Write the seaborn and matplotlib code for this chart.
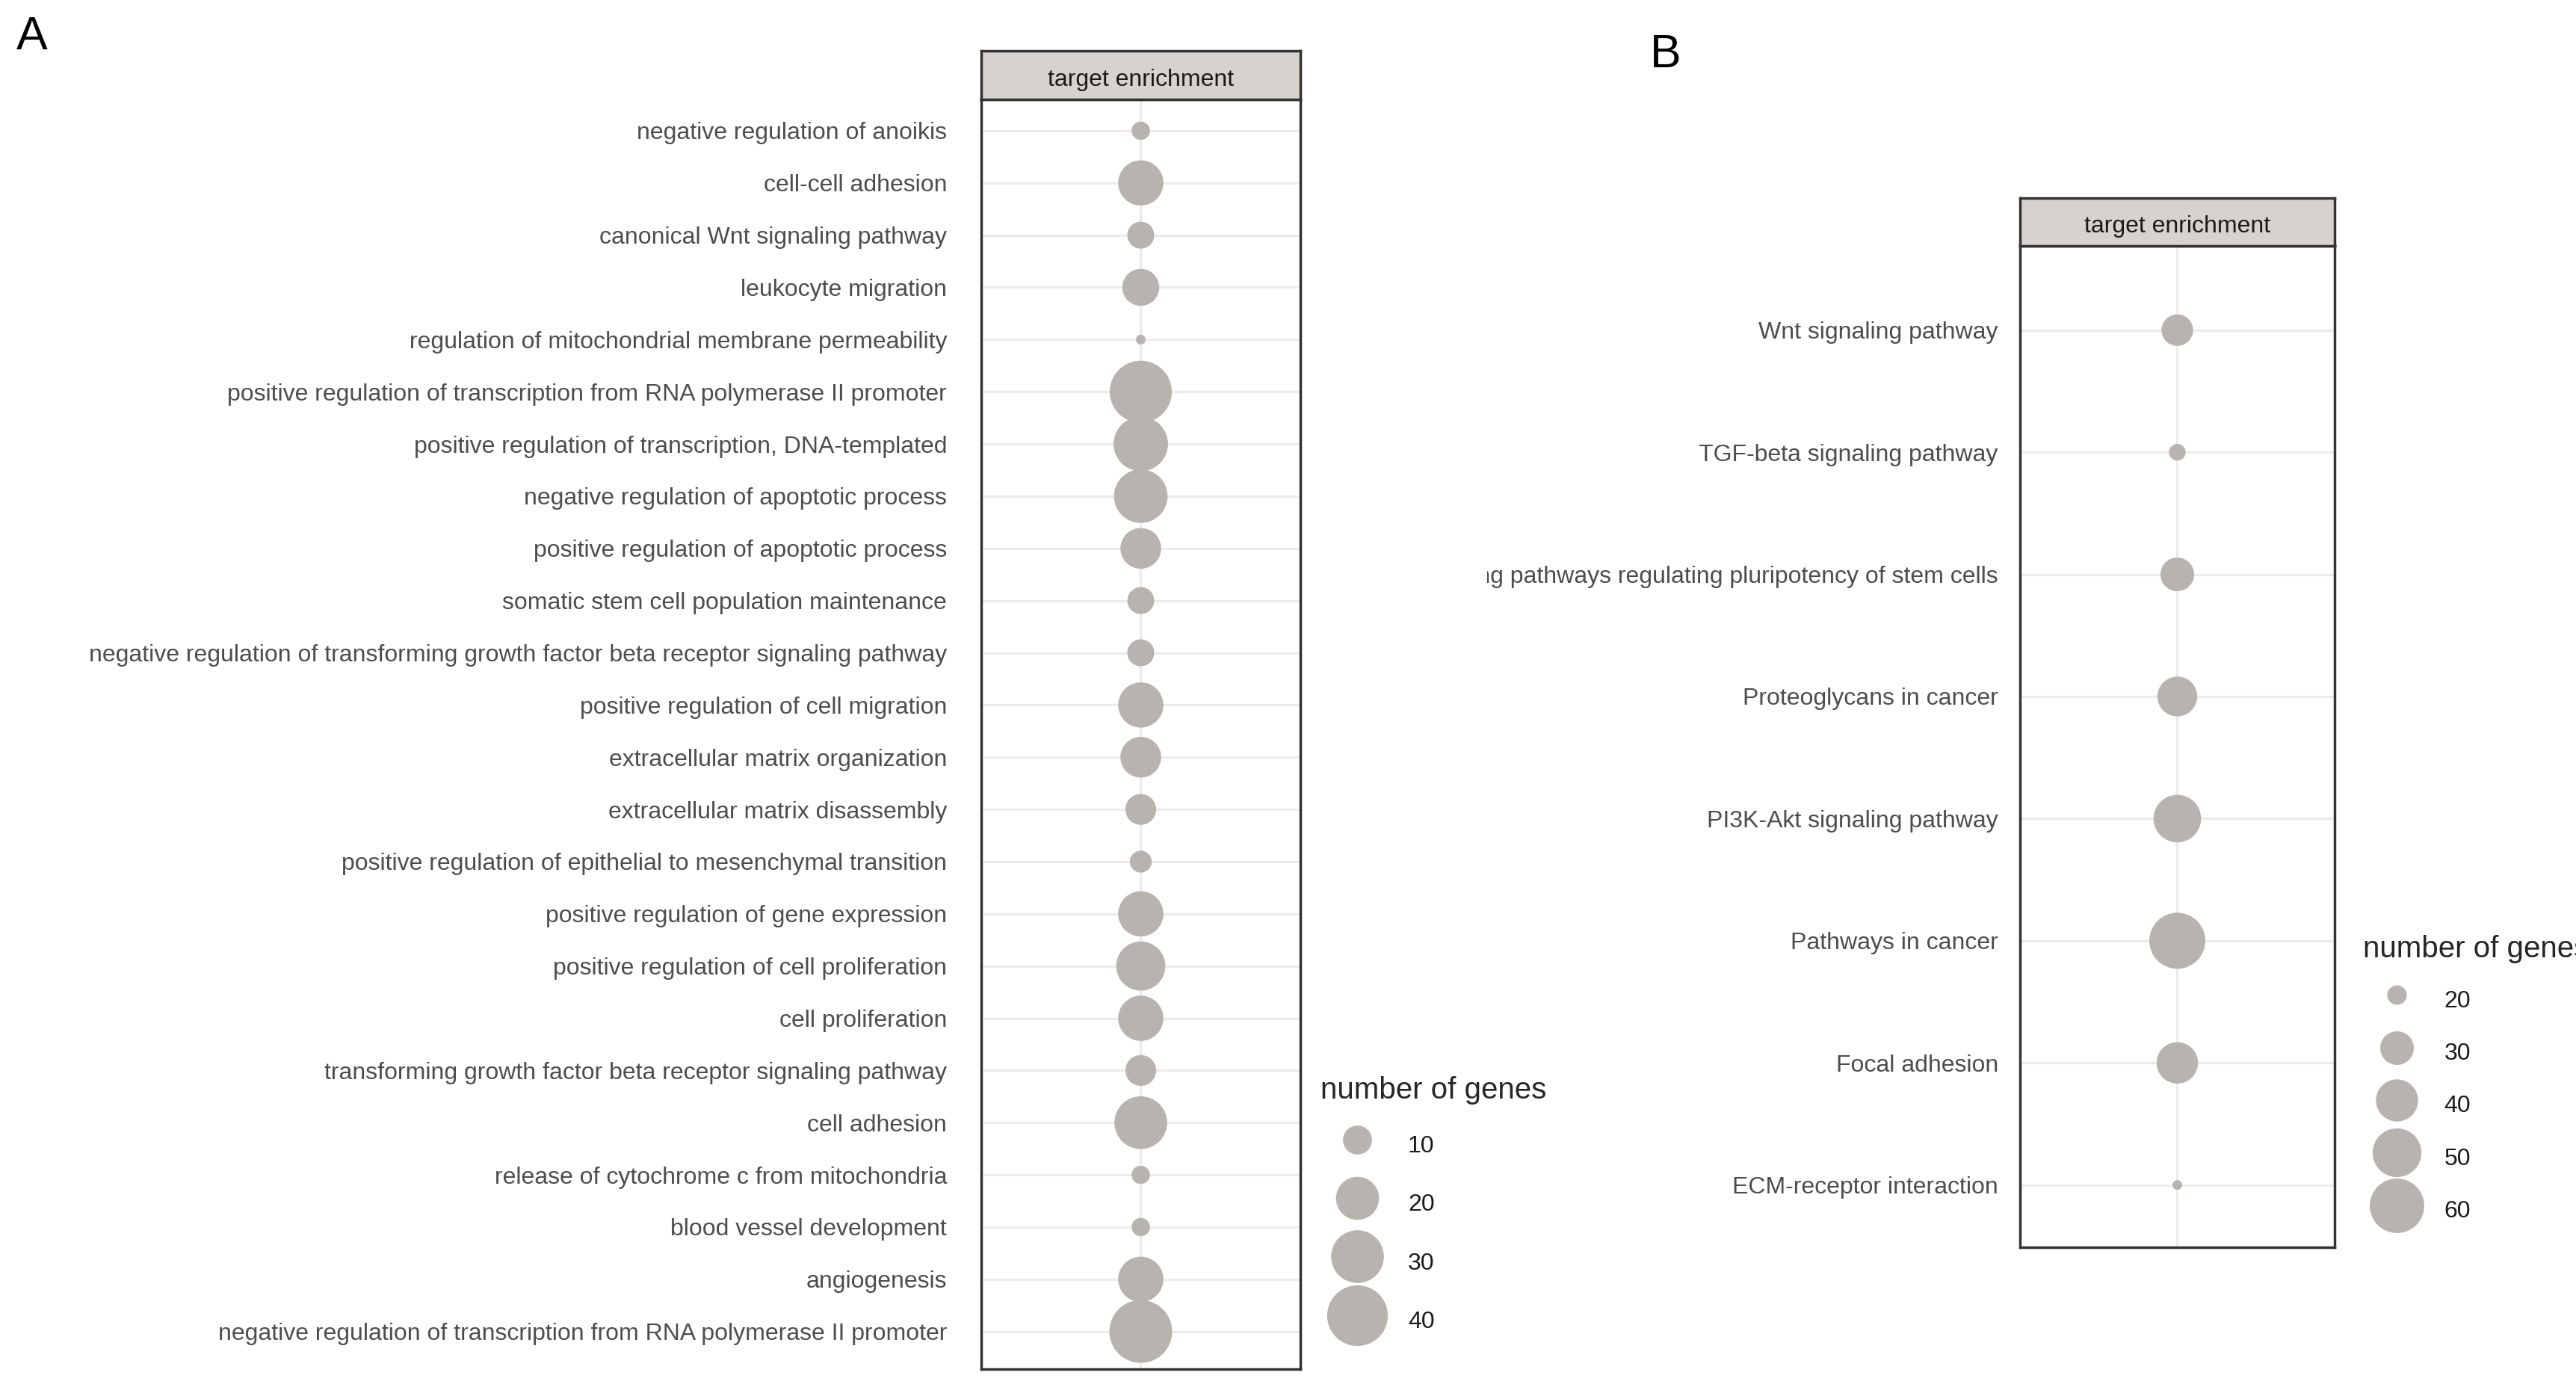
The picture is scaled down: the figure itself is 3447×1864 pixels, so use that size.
import numpy as np
import pandas as pd
import seaborn as sns
import matplotlib.pyplot as plt
from matplotlib.lines import Line2D
from matplotlib.transforms import Bbox, TransformedBbox

# GO terms (panel A), top to bottom, with gene counts
go_terms = [
    "negative regulation of anoikis",
    "cell-cell adhesion",
    "canonical Wnt signaling pathway",
    "leukocyte migration",
    "regulation of mitochondrial membrane permeability",
    "positive regulation of transcription from RNA polymerase II promoter",
    "positive regulation of transcription, DNA-templated",
    "negative regulation of apoptotic process",
    "positive regulation of apoptotic process",
    "somatic stem cell population maintenance",
    "negative regulation of transforming growth factor beta receptor signaling pathway",
    "positive regulation of cell migration",
    "extracellular matrix organization",
    "extracellular matrix disassembly",
    "positive regulation of epithelial to mesenchymal transition",
    "positive regulation of gene expression",
    "positive regulation of cell proliferation",
    "cell proliferation",
    "transforming growth factor beta receptor signaling pathway",
    "cell adhesion",
    "release of cytochrome c from mitochondria",
    "blood vessel development",
    "angiogenesis",
    "negative regulation of transcription from RNA polymerase II promoter",
]
go_genes = [6, 22, 9, 15, 5, 42, 32, 31, 18, 9, 9, 22, 18, 11, 7, 22, 26, 22, 11, 30, 6, 6, 22, 43]
go_legend = [10, 20, 30, 40]

# KEGG pathways (panel B)
kegg_terms = [
    "Wnt signaling pathway",
    "TGF-beta signaling pathway",
    "Signaling pathways regulating pluripotency of stem cells",
    "Proteoglycans in cancer",
    "PI3K-Akt signaling pathway",
    "Pathways in cancer",
    "Focal adhesion",
    "ECM-receptor interaction",
]
kegg_genes = [28, 19, 30, 37, 48, 63, 39, 18]
kegg_legend = [20, 30, 40, 50, 60]

DPI = 100
W, H = 3448, 1864
DOT = "#B7B3AE"
GRID = "#EEEAEA"
EDGE = "#333333"
STRIP = "#D6D2CE"
LABEL = "#4D4D4D"


def gg_area(v, lo, hi, dmin, dmax):
    # ggplot-like area scale: diameter grows with sqrt of rescaled value (px -> pt^2)
    d = dmin + (dmax - dmin) * np.sqrt((v - lo) / (hi - lo))
    return (d * 72 / DPI) ** 2


def draw_panel(fig, rect, strip_h, terms, genes, dmin, dmax, margins, pad, tick_len):
    df = pd.DataFrame({"term": terms, "genes": genes, "panel": "target enrichment"})
    lo, hi = min(genes), max(genes)
    sizes = {v: gg_area(v, lo, hi, dmin, dmax) for v in df["genes"].unique()}

    ax = fig.add_axes(rect)
    ax.grid(True, color=GRID, lw=2.2)
    ax.set_axisbelow(True)
    sns.scatterplot(data=df, x="panel", y="term", size="genes", sizes=sizes,
                    color=DOT, linewidth=0, legend=False, ax=ax, zorder=3)
    ax.set_xlim(-0.6, 0.6)
    ax.set_ylim(len(terms) - 1 + margins[1], -margins[0])
    ax.set_xlabel("")
    ax.set_ylabel("")
    ax.tick_params(axis="y", length=tick_len, width=2, color=EDGE, pad=pad,
                   labelsize=23, labelcolor=LABEL)
    ax.tick_params(axis="x", labelbottom=False)
    for s in ax.spines.values():
        s.set_color(EDGE)
        s.set_linewidth(2.5)

    sax = fig.add_axes([rect[0], rect[1] + rect[3], rect[2], strip_h])
    sax.set_facecolor(STRIP)
    sax.set_xticks([])
    sax.set_yticks([])
    for s in sax.spines.values():
        s.set_color(EDGE)
        s.set_linewidth(2.5)
    sax.text(0.5, 0.4, "target enrichment", ha="center", va="center",
             fontsize=23, color="#1A1A1A", transform=sax.transAxes)
    return ax, lo, hi


def add_legend(fig, values, lo, hi, dmin, dmax, anchor, hlen, hheight, lspace):
    handles = [Line2D([], [], marker="o", linestyle="", markeredgewidth=0,
                      markerfacecolor=DOT,
                      markersize=np.sqrt(gg_area(v, lo, hi, dmin, dmax)))
               for v in values]
    fig.legend(handles, [str(v) for v in values], title="number of genes",
               loc="upper left", bbox_to_anchor=anchor, frameon=False,
               borderpad=0, borderaxespad=0, fontsize=23, title_fontsize=29,
               handlelength=hlen, handleheight=hheight, handletextpad=0.6,
               labelspacing=lspace, alignment="left", labelcolor="#1A1A1A")


sns.set_theme(style="white")
plt.rcParams["font.family"] = ["Liberation Sans", "DejaVu Sans"]

fig = plt.figure(figsize=(W / DPI, H / DPI), dpi=DPI)

# panel A
ax_a, lo_a, hi_a = draw_panel(fig, [1313 / W, 1 - 1832 / H, 427 / W, 1699 / H], 65 / H,
                              go_terms, go_genes, 13, 84, (0.6, 0.72), 25, 8)
ax_a.tick_params(axis="x", direction="in", length=7, width=2, color=EDGE)
add_legend(fig, go_legend, lo_a, hi_a, 13, 84, (1767 / W, 1 - 1440 / H), 3.06, 1.94, 0.94)

# panel B
ax_b, lo_b, hi_b = draw_panel(fig, [2703 / W, 1 - 1669 / H, 421 / W, 1340 / H], 64 / H,
                              kegg_terms, kegg_genes, 13, 75, (0.69, 0.51), 15, 6)
ax_b.tick_params(axis="x", length=0)
add_legend(fig, kegg_legend, lo_b, hi_b, 13, 75, (3162 / W, 1 - 1251 / H), 2.8, 1.75, 0.82)

# panel B was cropped on the left in the original figure
clip = TransformedBbox(Bbox.from_extents(1990 / W, 0, 1, 1), fig.transFigure)
for lab in ax_b.get_yticklabels():
    lab.set_clip_box(clip)
    lab.set_clip_on(True)

fig.text(22 / W, 1 - 20 / H, "A", fontsize=45, ha="left", va="top", color="black")
fig.text(2208 / W, 1 - 44 / H, "B", fontsize=45, ha="left", va="top", color="black")

fig.savefig("out.png", dpi=DPI)
